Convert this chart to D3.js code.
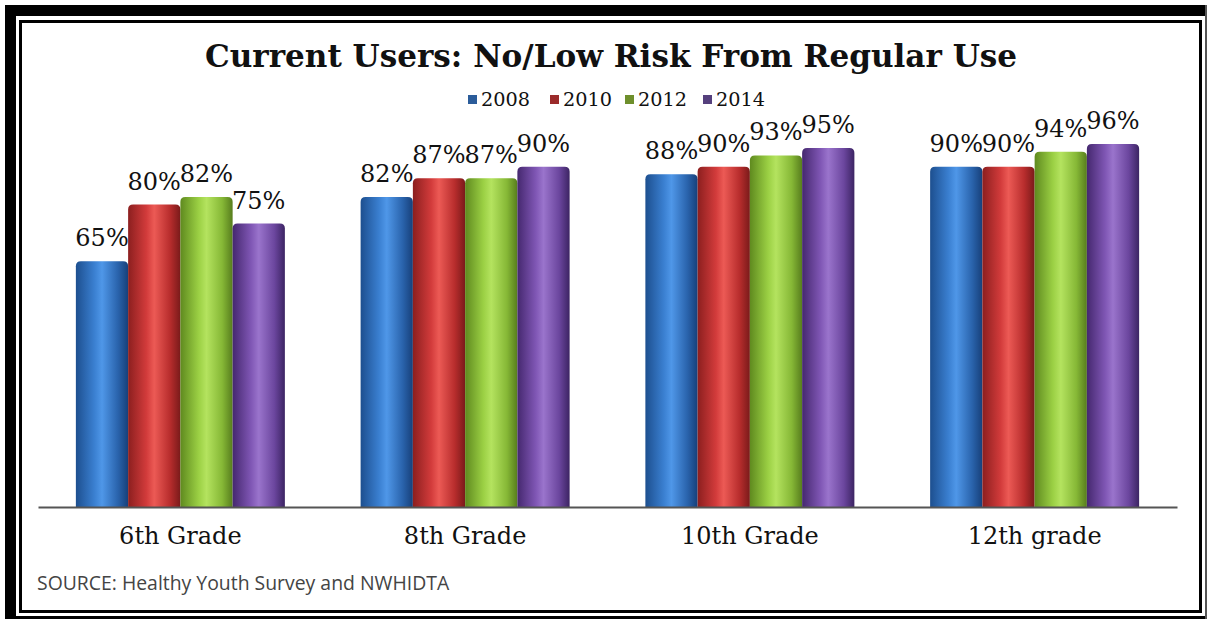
<!DOCTYPE html>
<html>
<head>
<meta charset="utf-8">
<script src="https://cdn.jsdelivr.net/npm/d3@7"></script>
<style>
  body { margin: 0; background: #fff; }
  svg { display: block; }
</style>
</head>
<body>
<script>
var grades = ["6th Grade", "8th Grade", "10th Grade", "12th grade"];
var years = ["2008", "2010", "2012", "2014"];
var values2008 = [65, 82, 88, 90];
var values2010 = [80, 87, 90, 90];
var values2012 = [82, 87, 93, 94];
var values2014 = [75, 90, 95, 96];
var series = [values2008, values2010, values2012, values2014];

// cylinder-ish shading: dark edge, light middle, dark edge
var shades = [
    ["#1d4f8f", "#3a7fd0", "#4f97e8", "#2a64ad", "#17407a"],
    ["#8c1f1f", "#d23b3b", "#ec5a55", "#b82d2d", "#7a1a1a"],
    ["#5f8a1f", "#9bd044", "#b4e35f", "#86b836", "#577d1d"],
    ["#45286f", "#7f56b4", "#9a74cc", "#6b469e", "#3c2463"]
];
var legendFill = ["#2b5c9a", "#9b2b2b", "#6e8f2c", "#55407d"];

var w = 1207, h = 621;
var svg = d3.select("body")
            .append("svg")
            .attr("width", w)
            .attr("height", h);

var defs = svg.append("defs");
shades.forEach(function(s, i) {
    var g = defs.append("linearGradient")
        .attr("id", "grad" + i)
        .attr("x1", "0%").attr("x2", "100%")
        .attr("y1", "0%").attr("y2", "0%");
    [0, 0.35, 0.5, 0.8, 1].forEach(function(o, k) {
        g.append("stop").attr("offset", o).attr("stop-color", s[k]);
    });
});

// frame
svg.append("rect").attr("x", 5).attr("y", 5).attr("width", 11).attr("height", 614).attr("fill", "#000");
svg.append("rect").attr("x", 5).attr("y", 5).attr("width", 1202).attr("height", 11).attr("fill", "#000");
svg.append("rect").attr("x", 5).attr("y", 616).attr("width", 1202).attr("height", 3).attr("fill", "#000");
svg.append("rect").attr("x", 1205).attr("y", 5).attr("width", 2).attr("height", 614).attr("fill", "#555");
svg.append("rect")
    .attr("x", 20.5).attr("y", 21.5)
    .attr("width", 1180).attr("height", 590)
    .attr("fill", "none")
    .attr("stroke", "#000")
    .attr("stroke-width", 3);

var x0 = d3.scaleBand()
    .domain(grades)
    .range([38, 1177])
    .paddingInner(0.266)
    .paddingOuter(0.133);

var x1 = d3.scaleBand()
    .domain(years)
    .range([0, x0.bandwidth()]);

var y = d3.scaleLinear()
    .domain([0, 100])
    .range([507, 129]);

// title
svg.append("text")
    .attr("x", 611)
    .attr("y", 67)
    .attr("text-anchor", "middle")
    .attr("font-family", "DejaVu Serif")
    .attr("font-weight", "bold")
    .attr("font-size", "31px")
    .attr("textLength", 812)
    .attr("lengthAdjust", "spacingAndGlyphs")
    .attr("fill", "#111")
    .text("Current Users: No/Low Risk From Regular Use");

// legend
var legendX = [468, 550, 625, 703];
var legend = svg.selectAll(".legend")
    .data(years)
    .enter()
    .append("g")
    .attr("class", "legend")
    .attr("transform", function(d, i) {
        return "translate(" + legendX[i] + ",106)";
    });
legend.append("rect")
    .attr("x", 0).attr("y", -11)
    .attr("width", 9).attr("height", 9)
    .attr("fill", function(d, i) { return legendFill[i]; });
legend.append("text")
    .attr("x", 13)
    .attr("y", 0)
    .attr("font-family", "DejaVu Serif")
    .attr("font-size", "19px")
    .attr("textLength", 49)
    .attr("lengthAdjust", "spacingAndGlyphs")
    .attr("fill", "#111")
    .text(function(d) { return d; });

// bars
function barPath(x, yt, bw, bh) {
    var r = 5;
    return "M" + x + "," + (yt + bh) +
        "V" + (yt + r) +
        "Q" + x + "," + yt + " " + (x + r) + "," + yt +
        "H" + (x + bw - r) +
        "Q" + (x + bw) + "," + yt + " " + (x + bw) + "," + (yt + r) +
        "V" + (yt + bh) + "Z";
}

var groups = svg.selectAll(".grade")
    .data(grades)
    .enter()
    .append("g")
    .attr("class", "grade")
    .attr("transform", function(d) {
        return "translate(" + x0(d) + ",0)";
    });

groups.selectAll("path")
    .data(function(d, gi) {
        return years.map(function(yr, si) {
            return { year: yr, si: si, value: series[si][gi] };
        });
    })
    .enter()
    .append("path")
    .attr("d", function(d) {
        return barPath(x1(d.year), y(d.value), x1.bandwidth(), y(0) - y(d.value));
    })
    .attr("fill", function(d) { return "url(#grad" + d.si + ")"; });

groups.selectAll("text")
    .data(function(d, gi) {
        return years.map(function(yr, si) {
            return { year: yr, si: si, value: series[si][gi] };
        });
    })
    .enter()
    .append("text")
    .attr("x", function(d) { return x1(d.year) + x1.bandwidth() / 2; })
    .attr("y", function(d) { return y(d.value) - 15; })
    .attr("text-anchor", "middle")
    .attr("font-family", "DejaVu Serif")
    .attr("font-size", "24px")
    .attr("fill", "#111")
    .text(function(d) { return d.value + "%"; });

// axis
var axis = svg.append("g")
    .attr("transform", "translate(0," + y(0) + ")")
    .call(d3.axisBottom(x0).tickSize(0).tickPadding(20));
axis.select(".domain")
    .attr("stroke", "#555")
    .attr("stroke-width", 2);
axis.selectAll("text")
    .attr("font-family", "DejaVu Serif")
    .attr("font-size", "24px")
    .attr("fill", "#111");

// source
svg.append("text")
    .attr("x", 37)
    .attr("y", 590)
    .attr("font-family", "Open Sans")
    .attr("font-size", "19.4px")
    .attr("fill", "#444")
    .text("SOURCE: Healthy Youth Survey and NWHIDTA");
</script>
</body>
</html>
